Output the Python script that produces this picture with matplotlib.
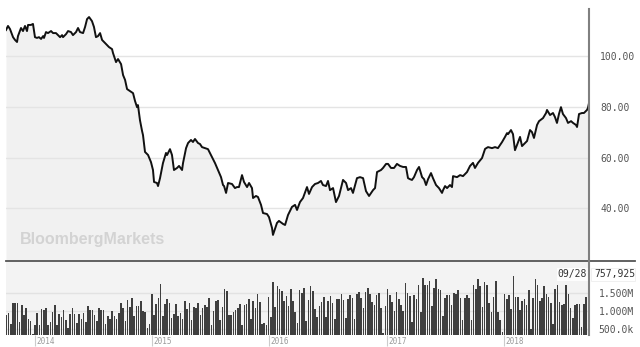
import numpy as np
import matplotlib
matplotlib.use("Agg")
import matplotlib.pyplot as plt
from matplotlib.lines import Line2D
from matplotlib.patches import Rectangle

# ---------------- data ----------------
price_years = [
    2013.755, 2013.772, 2013.789, 2013.815, 2013.832, 2013.849, 2013.857, 2013.883, 2013.900, 2013.917,
    2013.934, 2013.943, 2013.968, 2013.985, 2014.002, 2014.019, 2014.036, 2014.054, 2014.071, 2014.079,
    2014.096, 2014.113, 2014.139, 2014.156, 2014.181, 2014.198, 2014.216, 2014.233, 2014.241, 2014.267,
    2014.284, 2014.309, 2014.326, 2014.352, 2014.369, 2014.386, 2014.412, 2014.429, 2014.446, 2014.463,
    2014.488, 2014.505, 2014.522, 2014.539, 2014.557, 2014.574, 2014.591, 2014.616, 2014.633, 2014.659,
    2014.667, 2014.693, 2014.710, 2014.736, 2014.753, 2014.770, 2014.787, 2014.812, 2014.838, 2014.855,
    2014.872, 2014.880, 2014.897, 2014.915, 2014.923, 2014.940, 2014.966, 2014.991, 2015.008, 2015.017,
    2015.042, 2015.051, 2015.068, 2015.093, 2015.119, 2015.128, 2015.153, 2015.170, 2015.187, 2015.213,
    2015.230, 2015.256, 2015.264, 2015.290, 2015.307, 2015.332, 2015.349, 2015.366, 2015.392, 2015.409,
    2015.426, 2015.452, 2015.477, 2015.511, 2015.537, 2015.562, 2015.588, 2015.605, 2015.614, 2015.631,
    2015.648, 2015.682, 2015.707, 2015.724, 2015.741, 2015.767, 2015.784, 2015.810, 2015.827, 2015.852,
    2015.861, 2015.886, 2015.903, 2015.929, 2015.946, 2015.980, 2015.997, 2016.023, 2016.031, 2016.065,
    2016.082, 2016.117, 2016.134, 2016.159, 2016.193, 2016.219, 2016.236, 2016.261, 2016.287, 2016.321,
    2016.338, 2016.364, 2016.389, 2016.415, 2016.440, 2016.457, 2016.483, 2016.500, 2016.517, 2016.543,
    2016.568, 2016.594, 2016.628, 2016.654, 2016.671, 2016.696, 2016.713, 2016.747, 2016.773, 2016.799,
    2016.824, 2016.850, 2016.884, 2016.901, 2016.918, 2016.952, 2016.969, 2016.995, 2017.012, 2017.037,
    2017.063, 2017.088, 2017.114, 2017.140, 2017.165, 2017.182, 2017.199, 2017.216, 2017.233, 2017.259,
    2017.276, 2017.302, 2017.319, 2017.336, 2017.353, 2017.378, 2017.395, 2017.421, 2017.446, 2017.472,
    2017.481, 2017.498, 2017.515, 2017.540, 2017.557, 2017.566, 2017.600, 2017.626, 2017.651, 2017.685,
    2017.711, 2017.736, 2017.753, 2017.779, 2017.813, 2017.839, 2017.864, 2017.898, 2017.924, 2017.949,
    2017.984, 2018.009, 2018.026, 2018.035, 2018.060, 2018.077, 2018.094, 2018.111, 2018.137, 2018.154,
    2018.180, 2018.197, 2018.222, 2018.239, 2018.256, 2018.282, 2018.299, 2018.333, 2018.359, 2018.367,
    2018.393, 2018.418, 2018.435, 2018.452, 2018.469, 2018.486, 2018.503, 2018.529, 2018.546, 2018.572,
    2018.589, 2018.614, 2018.623, 2018.640, 2018.665, 2018.682, 2018.708, 2018.716, 2018.725,
]
price_values = [
    110.1, 111.7, 110.5, 107.3, 106.2, 105.4, 107.7, 110.9, 109.7, 111.7,
    109.7, 112.1, 112.1, 112.5, 107.3, 107.0, 107.3, 106.6, 107.7, 107.0,
    109.3, 108.9, 109.7, 108.9, 108.9, 108.1, 107.3, 108.1, 107.3, 108.5,
    109.7, 109.3, 108.1, 109.3, 110.9, 109.3, 108.9, 111.3, 114.4, 115.2,
    113.6, 111.3, 107.3, 107.7, 108.9, 106.2, 105.4, 104.2, 103.4, 102.6,
    101.1, 97.5, 98.7, 96.7, 92.4, 90.5, 86.9, 86.1, 85.3, 82.2,
    79.8, 80.6, 74.7, 70.4, 68.8, 62.2, 61.0, 58.2, 55.1, 50.4,
    50.0, 48.8, 51.9, 57.8, 61.8, 61.0, 63.3, 61.0, 55.1, 55.9,
    56.7, 55.1, 57.8, 63.7, 65.7, 66.9, 66.1, 67.3, 65.7, 65.3,
    64.1, 63.7, 63.3, 60.2, 57.8, 55.1, 52.3, 49.2, 48.8, 46.1,
    50.0, 49.6, 48.0, 48.4, 48.4, 53.1, 50.4, 48.4, 50.0, 48.0,
    44.1, 44.9, 44.5, 41.4, 38.2, 37.8, 36.6, 32.3, 29.6, 34.3,
    35.1, 33.9, 33.5, 37.4, 40.6, 41.4, 39.4, 42.5, 44.1, 48.4,
    45.7, 48.4, 49.6, 50.0, 50.8, 49.2, 48.8, 50.8, 47.2, 48.0,
    42.5, 44.9, 51.2, 50.0, 47.2, 48.0, 46.1, 51.9, 52.3, 51.9,
    46.8, 44.9, 47.2, 48.0, 54.3, 55.1, 55.9, 57.5, 57.5, 55.9,
    55.9, 57.5, 56.7, 56.3, 56.3, 51.9, 51.5, 51.2, 52.3, 55.1,
    56.3, 52.3, 51.5, 49.2, 51.5, 53.9, 51.9, 49.2, 48.0, 46.1,
    47.2, 48.8, 48.0, 49.2, 48.4, 52.7, 52.3, 53.1, 52.7, 54.3,
    56.7, 57.9, 55.9, 57.9, 59.8, 63.4, 64.1, 63.7, 64.1, 63.7,
    66.1, 68.1, 69.6, 69.2, 70.8, 69.2, 62.9, 64.9, 68.1, 64.5,
    65.7, 66.5, 70.8, 70.0, 67.7, 72.8, 74.3, 75.5, 77.5, 78.7,
    76.7, 77.5, 75.9, 73.6, 77.1, 79.8, 77.1, 75.5, 73.6, 74.3,
    73.6, 72.8, 72.0, 77.1, 77.5, 77.5, 78.7, 79.5, 81.4,
]

# weekly volume, millions of shares
volume_millions = [
    0.90, 0.94, 0.65, 1.22, 1.23, 1.21, 0.69, 1.18, 0.88, 1.08,
    0.79, 0.71, 0.37, 0.62, 0.94, 0.62, 1.05, 1.04, 1.08, 0.60,
    0.69, 0.97, 1.16, 0.60, 0.91, 0.83, 1.04, 0.74, 0.53, 0.93,
    1.08, 0.93, 0.67, 0.93, 0.77, 0.95, 0.69, 1.13, 1.02, 1.02,
    0.88, 0.71, 1.07, 1.02, 1.02, 0.64, 0.86, 0.79, 0.99, 0.85,
    0.79, 0.95, 1.22, 1.08, 0.71, 1.30, 1.11, 1.36, 0.86, 1.14,
    1.14, 1.27, 0.99, 0.97, 0.54,
    0.65, 1.48, 0.90, 1.20, 1.36, 1.76, 0.86, 1.20, 1.32, 1.23,
    0.81, 0.93, 1.20, 0.86, 0.95, 0.77, 1.28, 1.05, 1.23, 0.74,
    1.11, 1.07, 1.23, 0.88, 1.08, 1.18, 1.11, 1.36, 0.60, 0.99,
    1.27, 1.30, 0.74, 1.11, 1.62, 1.55, 0.88, 0.88, 0.97, 1.02,
    1.08, 1.20, 0.60, 1.18, 1.20, 1.32, 0.79, 1.28, 1.07, 1.48,
    1.25, 0.65, 0.68, 0.60, 1.39, 0.83, 1.80, 1.11, 1.69, 1.62,
    1.55, 1.27, 1.42, 1.14, 1.60, 1.27, 0.97,
    0.67, 1.57, 1.51, 1.64, 0.71, 1.30, 1.69, 1.55, 1.05, 0.83,
    1.14, 1.25, 1.39, 0.83, 1.27, 1.42, 1.23, 0.79, 1.34, 1.34,
    1.46, 1.30, 0.81, 1.32, 1.44, 1.36, 0.79, 1.46, 1.53, 1.36,
    1.07, 1.53, 1.64, 1.48, 1.25, 1.16, 1.45, 1.51, 1.08, 0.40,
    1.14, 1.60, 1.45, 1.25, 0.99, 1.53, 1.34, 1.18, 1.00, 1.79,
    1.51, 1.42, 0.69, 1.45, 1.34, 1.71, 0.97, 1.92, 1.71, 1.71,
    1.82, 1.14, 1.64, 1.88, 1.62, 1.57, 0.86,
    1.36, 1.44, 1.44, 1.18, 1.51, 1.46, 1.57, 1.36, 0.74, 1.36,
    1.45, 1.36, 0.74, 1.73, 1.62, 1.88, 1.69, 1.11, 1.80, 1.71,
    1.23, 0.97, 1.39, 1.82, 0.97, 0.74, 0.42, 1.48, 1.34, 1.44,
    1.05, 1.97, 1.39, 1.39, 1.02, 1.27, 1.34, 1.16, 1.57, 0.51,
    1.36, 1.88, 1.73, 1.27, 1.36, 1.69, 1.48, 1.39, 1.23, 0.65,
    1.62, 1.73, 1.25, 1.16, 1.20, 1.73, 1.48, 1.07, 0.81, 1.16,
    1.20, 1.20, 0.56, 1.20, 1.39, 1.34,
]

start_year, end_year = 2013.755, 2018.725
year_ticks = [2014, 2015, 2016, 2017, 2018]
price_ticks = [40, 60, 80, 100]
price_tick_labels = ["40.00", "60.00", "80.00", "100.00"]
volume_ticks = [0.5, 1.0, 1.5]
volume_tick_labels = ["500.0k", "1.000M", "1.500M"]
last_date_label = "09/28"
last_volume_label = "757,925"

# ---------------- figure ----------------
W, H = 640, 347
fig = plt.figure(figsize=(W / 100, H / 100), dpi=100)
fig.patch.set_facecolor("white")

def fx(x):
    return x / W

def fy(y):
    return 1 - y / H

left, right = 6, 589
ax = fig.add_axes([fx(left), fy(261), fx(right) - fx(left), fy(0) - fy(261)])
axv = fig.add_axes([fx(left), fy(335), fx(right) - fx(left), fy(261) - fy(335)])

mono = "DejaVu Sans Mono"
lab_col = "#555555"

# price panel
ax.set_facecolor("white")
ax.set_xlim(start_year, end_year)
ax.set_ylim(19.35, 121.9)
ax.fill_between(price_years, price_values, 0, color="#f1f1f1", lw=0, zorder=1)
for t in price_ticks:
    ax.axhline(t, color="#e4e4e4", lw=1.0, zorder=2)
ax.plot(price_years, price_values, color="#111111", lw=1.4, zorder=3,
        solid_joinstyle="round")
for s in ax.spines.values():
    s.set_visible(False)
ax.set_xticks([])
ax.yaxis.tick_right()
ax.set_yticks(price_ticks)
ax.set_yticklabels(price_tick_labels, family=mono, fontsize=7, color=lab_col)
ax.tick_params(axis="y", length=0, pad=8)

ax.text(0.024, 0.055, "BloombergMarkets", transform=ax.transAxes,
        fontsize=11.5, fontweight="bold", color="#d3d3d3",
        family="Liberation Sans", ha="left", va="bottom", zorder=4)

# volume panel
axv.set_facecolor("#f3f3f3")
axv.set_xlim(start_year, end_year)
axv.set_ylim(0.333, 2.389)
n = len(volume_millions)
vx = np.linspace(start_year + 0.003, end_year - 0.006, n)
step = vx[1] - vx[0]
for t in volume_ticks:
    axv.axhline(t, color="#e2e2e2", lw=1.0, zorder=1)
axv.bar(vx, volume_millions, width=step * 0.72, color="#3f3f3f",
        bottom=0, lw=0, zorder=2)
for s in axv.spines.values():
    s.set_visible(False)
axv.yaxis.tick_right()
axv.set_yticks(volume_ticks)
axv.set_yticklabels(volume_tick_labels, family=mono, fontsize=7, color=lab_col)
axv.tick_params(axis="y", length=0, pad=7)
axv.set_xticks(year_ticks)
axv.set_xticklabels([])
axv.tick_params(axis="x", length=8, width=0.8, color="#cccccc", direction="out")
for yr in year_ticks:
    axv.text(yr + 0.012, -0.03, str(yr), transform=axv.get_xaxis_transform(),
             fontsize=5.5, color="#9a9a9a", ha="left", va="top", family=mono)

# separators
fig.add_artist(Line2D([fx(left), fx(635)], [fy(261), fy(261)],
                      color="#555555", lw=1.3))
fig.add_artist(Line2D([fx(right), fx(right)], [fy(9), fy(335)],
                      color="#808080", lw=1.5))

# last-value boxes
fig.add_artist(Rectangle((fx(557), fy(281)), fx(31), fy(268) - fy(281),
                         facecolor="white", edgecolor="none", alpha=0.9))
fig.text(fx(572), fy(274.5), last_date_label, family=mono, fontsize=7,
         color="#333333", ha="center", va="center")
fig.add_artist(Rectangle((fx(591), fy(281)), fx(44), fy(268) - fy(281),
                         facecolor="white", edgecolor="#eeeeee", lw=0.6))
fig.text(fx(594), fy(274.5), last_volume_label, family=mono, fontsize=7,
         color="#333333", ha="left", va="center")

fig.savefig("out.png", dpi=100, facecolor="white")
